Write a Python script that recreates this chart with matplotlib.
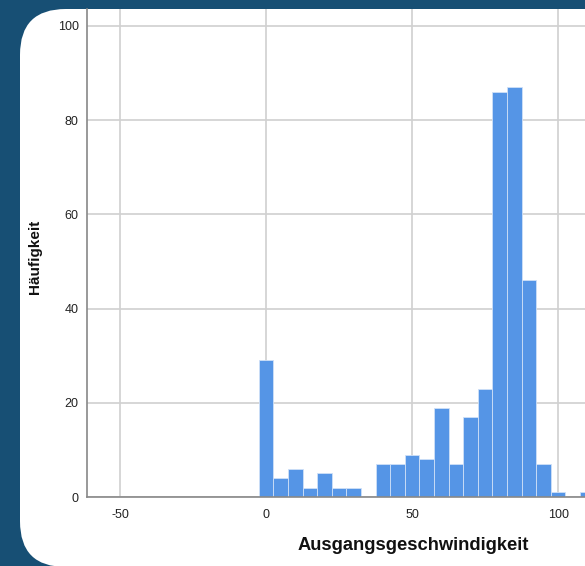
import matplotlib
matplotlib.use("Agg")
import matplotlib.pyplot as plt
from matplotlib.patches import FancyBboxPatch

bin_centers = [0, 5, 10, 15, 20, 25, 30, 35, 40, 45, 50, 55, 60, 65, 70, 75, 80, 85, 90, 95, 100, 105, 110]
counts = [29, 4, 6, 2, 5, 2, 2, 0, 7, 7, 9, 8, 19, 7, 17, 23, 86, 87, 46, 7, 1, 0, 1]
x_ticks = [-50, 0, 50, 100]
y_ticks = [0, 20, 40, 60, 80, 100]

plt.rcParams['font.family'] = ['Liberation Sans', 'DejaVu Sans']
plt.rcParams['axes.unicode_minus'] = False

W, H = 585, 566
fig = plt.figure(figsize=(W / 100, H / 100), dpi=100)
fig.patch.set_facecolor('#174f74')

panel = FancyBboxPatch((20 / W, -1 / H), (640 - 20) / W, (H + 1 - 9) / H,
                       boxstyle="round,pad=0,rounding_size=0.078",
                       transform=fig.transFigure, facecolor='white', edgecolor='none',
                       mutation_aspect=W / H, zorder=-5)
fig.patches.append(panel)

ax = fig.add_axes([87 / W, 69 / H, (W - 87) / W, (497 - 9) / H])
ax.set_zorder(2)
ax.set_facecolor('none')
ax.bar(bin_centers, counts, width=5, color='#5595e6', edgecolor='#cfe0f7', linewidth=0.6, zorder=3)

ax.set_xlim(-61.3, 109.2)
ax.set_ylim(0, 103.6)
ax.set_xticks(x_ticks)
ax.set_yticks(y_ticks)
ax.tick_params(length=0, labelsize=9, colors='#222222')
ax.tick_params(axis='x', pad=9)
ax.tick_params(axis='y', pad=6)
ax.grid(True, color='#d0d0d0', linewidth=1.2, zorder=0)
for s in ['top', 'right']:
    ax.spines[s].set_visible(False)
for s in ['left', 'bottom']:
    ax.spines[s].set_color('#888888')
    ax.spines[s].set_linewidth(1.2)
    ax.spines[s].set_zorder(4)

fig.text(413 / W, 1 - 545 / H, 'Ausgangsgeschwindigkeit', ha='center', va='center',
         fontsize=13.2, fontweight='bold', color='#111111', zorder=5)
fig.text(35 / W, 1 - 257 / H, 'Häufigkeit', ha='center', va='center', rotation=90,
         fontsize=11, fontweight='bold', color='#111111', zorder=5)

fig.savefig('out.png', dpi=100, facecolor=fig.get_facecolor())
